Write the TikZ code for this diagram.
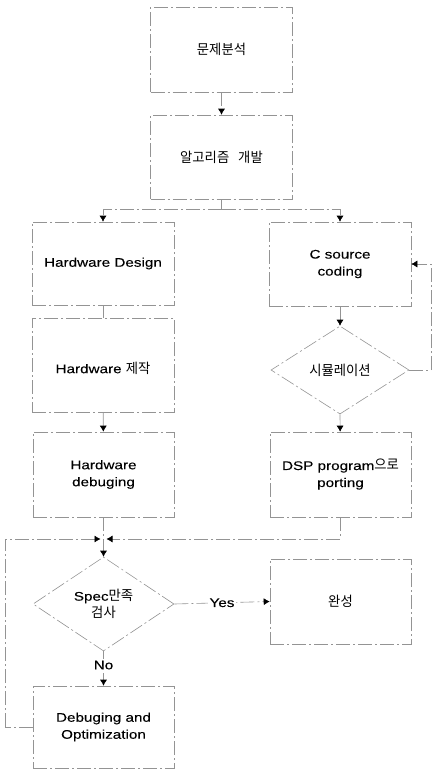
\documentclass[tikz,border=0pt]{standalone}
\usepackage{fontspec}
\setmainfont{Liberation Sans}[FakeStretch=1.22,FakeBold=0.1]
\newfontfamily\kr{Noto Sans CJK KR}[Scale=1.1,FakeStretch=0.97,WordSpace=3]
\usetikzlibrary{arrows.meta,shapes.geometric}
\tikzset{
  faded/.style={draw=black!42, line width=0.6pt, dash pattern=on 14pt off 3pt on 2pt off 3pt},
  boxnode/.style={faded, rectangle, inner sep=0pt, minimum width=142pt, minimum height=85pt},
  decnode/.style={faded, diamond, inner sep=0pt},
  txt/.style={align=center, font=\fontsize{12.5}{17}\selectfont, text=black, inner sep=1pt},
  conn/.style={faded},
  tip/.style={-{Latex[length=6pt,width=7pt,color=black]}},
  lbl/.style={txt, fill=white, inner sep=2pt}
}
\begin{document}
\begin{tikzpicture}[x=1pt,y=-1pt]
\useasboundingbox (0,0) rectangle (432,772);
% boxes
\node[boxnode, minimum height=85pt] (b1) at (221.5,49.5) {};
\node[txt] at (b1) {\kr 문제분석};
\node[boxnode, minimum height=84pt] (b2) at (221.5,157) {};
\node[txt] at (b2) {\kr 알고리즘 개발};
\node[boxnode, minimum height=83pt] (hd) at (103,263.5) {};
\node[txt] at (hd) {Hardware Design};
\node[boxnode, minimum height=84pt] (cs) at (340,264) {};
\node[txt] at (cs) {C source\\coding};
\node[boxnode, minimum height=94pt] (hm) at (103,365) {};
\node[txt] at (103,368) {Hardware {\kr 제작}};
\node[decnode, minimum width=138pt, minimum height=88pt] (sim) at (340,370) {};
\node[txt] at (sim) {\kr 시뮬레이션};
\node[boxnode, minimum width=141pt] (hdb) at (103.5,474.5) {};
\node[txt] at (hdb) {Hardware\\debuging};
\node[boxnode, minimum width=141pt] (dsp) at (340.5,474.5) {};
\node[txt] at (dsp) {DSP program{\kr 으로}\\porting};
\node[decnode, minimum width=141pt, minimum height=94pt] (spec) at (103.5,604) {};
\node[txt] at (spec) {Spec{\kr 만족}\\{\kr 검사}};
\node[boxnode, minimum width=141pt] (done) at (340.5,601.5) {};
\node[txt] at (done) {\kr 완성};
\node[boxnode, minimum width=141pt, minimum height=82pt] (dbo) at (103.5,727) {};
\node[txt] at (dbo) {Debuging and\\Optimization};
% helper coordinates
\coordinate (split) at (221.5,209);
\coordinate (merge) at (103.5,539);
\coordinate (rloop) at (431,370);
\coordinate (lloop) at (5,727);
% connectors
\draw[conn,tip] (b1) -- (b2);
\draw[conn] (b2) -- (split);
\draw[conn,tip] (split) -| (hd.north);
\draw[conn,tip] (split) -| (cs.north);
\draw[conn] (hd) -- (hm);
\draw[conn,tip] (hm) -- (hdb);
\draw[conn,tip] (cs) -- (sim.north);
\draw[conn,tip] (sim.south) -- (dsp);
\draw[conn] (sim.east) -- (rloop);
\draw[conn,tip] (rloop) |- (cs.east);
\draw[conn] (hdb) -- (merge);
\draw[conn,tip,shorten >=3pt] (dsp) |- (merge);
\draw[conn] (dbo.west) -- (lloop);
\draw[conn,tip,shorten >=3pt] (lloop) |- (merge);
\draw[conn,tip] (merge) -- (spec.north);
\draw[conn,tip] (spec.east) -- node[lbl] {Yes} (done.west);
\draw[conn,tip] (spec.south) -- node[lbl, pos=0.4] {No} (dbo.north);
\end{tikzpicture}
\end{document}
